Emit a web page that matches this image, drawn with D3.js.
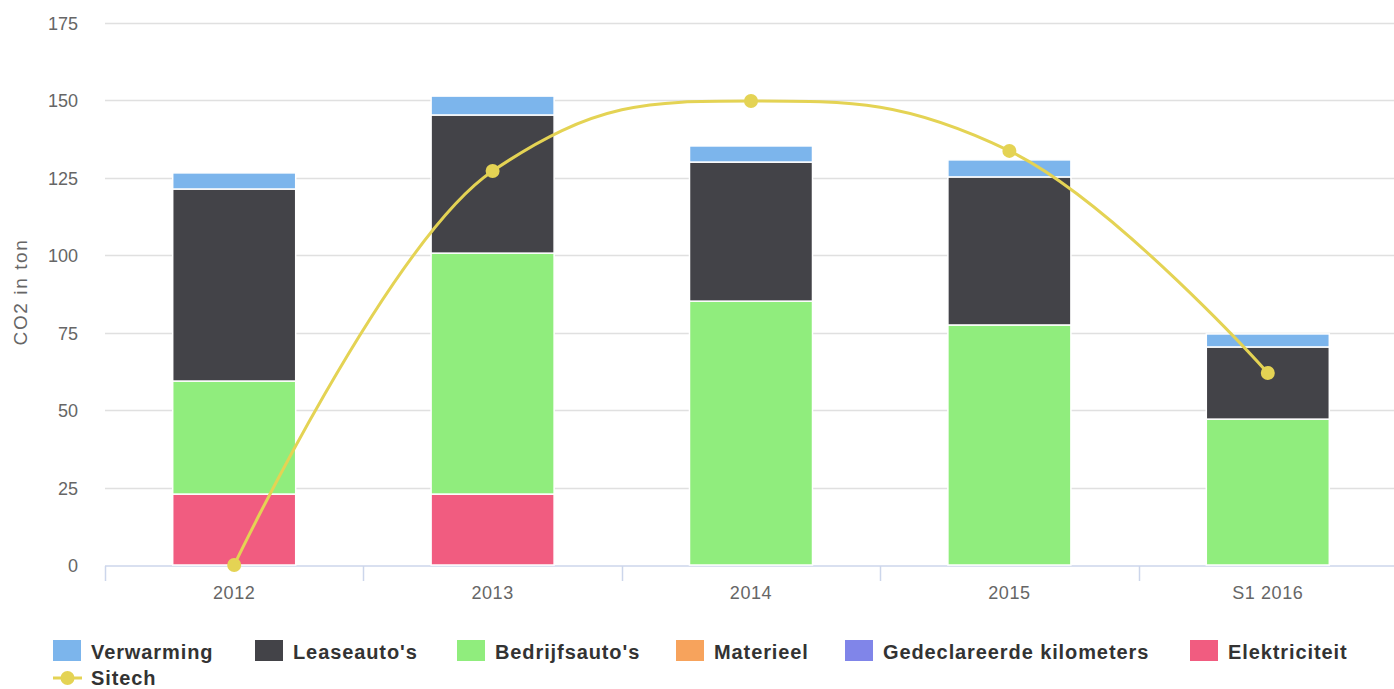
<!DOCTYPE html>
<html>
<head>
<meta charset="utf-8" />
<style>
  body { margin: 0; background: #fff; }
  svg { display: block; font-family: "Liberation Sans", Arial, Helvetica, sans-serif; }
  .grid line { stroke: #e0e0e0; stroke-width: 1.5px; }
  .ylab text, .xlab text { fill: #666; font-size: 18px; }
  .legend text { fill: #333; font-size: 20px; font-weight: bold; letter-spacing: 0.9px; }
</style>
</head>
<body>
<svg width="1394" height="689"></svg>
<script src="https://cdn.jsdelivr.net/npm/d3@7/dist/d3.min.js"></script>
<script>
  // data (CO2 in ton)
  var categories = ["2012", "2013", "2014", "2015", "S1 2016"];
  var verwarming = [5.2, 6.1, 5.2, 5.5, 4.2];
  var leaseautos = [62.0, 44.6, 44.9, 47.8, 23.3];
  var bedrijfsautos = [36.5, 77.8, 85.2, 77.5, 47.1];
  var materieel = [0, 0, 0, 0, 0];
  var gedeclareerd = [0, 0, 0, 0, 0];
  var elektriciteit = [22.9, 22.9, 0, 0, 0];
  var sitech = [0, 127.2, 149.8, 133.7, 62.0];
  var yTicks = [0, 25, 50, 75, 100, 125, 150, 175];

  var seriesNames = ["Verwarming", "Leaseauto's", "Bedrijfsauto's", "Materieel", "Gedeclareerde kilometers", "Elektriciteit"];
  var seriesValues = [verwarming, leaseautos, bedrijfsautos, materieel, gedeclareerd, elektriciteit];
  var colors = ["#7cb5ec", "#434348", "#90ed7d", "#f7a35c", "#8085e9", "#f15c80"];
  var lineColor = "#e4d354";

  var svg = d3.select("svg");
  var plotL = 105, plotR = 1397, plotT = 23, plotB = 565;

  var y = d3.scaleLinear().domain([0, 175]).range([plotB, plotT]);
  var xCat = d3.scaleBand().domain(categories).range([plotL, plotR]).padding(0);
  var x = d3.scaleBand().domain(categories).range([plotL, plotR])
    .paddingInner(0.524).paddingOuter(0.262);

  // grid lines
  svg.append("g").attr("class", "grid")
    .selectAll("line").data(yTicks.slice(1)).enter().append("line")
    .attr("x1", plotL).attr("x2", 1394)
    .attr("y1", function (d) { return Math.round(y(d)) + 0.5; })
    .attr("y2", function (d) { return Math.round(y(d)) + 0.5; });

  // y labels
  svg.append("g").attr("class", "ylab")
    .attr("transform", "translate(78,0)")
    .call(d3.axisLeft(y).tickValues(yTicks).tickSize(0).tickPadding(0))
    .call(function (g) { g.select(".domain").remove(); })
    .selectAll("text").attr("dy", "0.36em");

  svg.append("text")
    .attr("transform", "translate(27,292) rotate(-90)")
    .attr("text-anchor", "middle")
    .attr("fill", "#666").attr("font-size", "19px").attr("letter-spacing", "1.6px")
    .text("CO2 in ton");

  // x axis line + boundary ticks
  svg.append("line")
    .attr("x1", plotL).attr("x2", 1394).attr("y1", plotB + 1).attr("y2", plotB + 1)
    .attr("stroke", "#ccd6eb").attr("stroke-width", 1.5);
  svg.append("g").selectAll("line").data(categories).enter().append("line")
    .attr("x1", function (d) { return Math.round(xCat(d)) + 0.5; })
    .attr("x2", function (d) { return Math.round(xCat(d)) + 0.5; })
    .attr("y1", plotB + 1).attr("y2", plotB + 16)
    .attr("stroke", "#ccd6eb").attr("stroke-width", 1.5);

  svg.append("g").attr("class", "xlab")
    .attr("transform", "translate(0," + (plotB + 20) + ")")
    .call(d3.axisBottom(xCat).tickSize(0).tickPadding(0))
    .call(function (g) { g.select(".domain").remove(); })
    .selectAll("text").attr("dy", "0.75em").attr("letter-spacing", "0.6px");

  // stacked bars: first series on top, last at the bottom
  var rows = categories.map(function (c, i) {
    var r = { cat: c };
    seriesNames.forEach(function (n, k) { r[n] = seriesValues[k][i]; });
    return r;
  });
  var stack = d3.stack().keys(seriesNames.slice().reverse());
  var layers = stack(rows);

  svg.append("g").selectAll("g").data(layers).enter().append("g")
    .attr("fill", function (d) { return colors[seriesNames.indexOf(d.key)]; })
    .selectAll("rect")
    .data(function (d) { return d.filter(function (p) { return p[1] - p[0] > 0; }); })
    .enter().append("rect")
    .attr("x", function (d) { return x(d.data.cat); })
    .attr("width", x.bandwidth())
    .attr("y", function (d) { return y(d[1]); })
    .attr("height", function (d) { return y(d[0]) - y(d[1]); })
    .attr("stroke", "#fff").attr("stroke-width", 1.5);

  // Sitech spline (Highcharts-style control points)
  var pts = sitech.map(function (v, i) {
    return { x: xCat(categories[i]) + xCat.bandwidth() / 2, y: y(v) };
  });
  pts.forEach(function (p, i) {
    var a = pts[i - 1], b = pts[i + 1];
    if (!a || !b) return;
    var s = 1.5, den = s + 1;
    var lx = (s * p.x + a.x) / den, ly = (s * p.y + a.y) / den;
    var rx = (s * p.x + b.x) / den, ry = (s * p.y + b.y) / den;
    var corr = ((ry - ly) * (rx - p.x)) / (rx - lx) + p.y - ry;
    ly += corr; ry += corr;
    if (ly > a.y && ly > p.y) { ly = Math.max(a.y, p.y); ry = 2 * p.y - ly; }
    else if (ly < a.y && ly < p.y) { ly = Math.min(a.y, p.y); ry = 2 * p.y - ly; }
    if (ry > b.y && ry > p.y) { ry = Math.max(b.y, p.y); ly = 2 * p.y - ry; }
    else if (ry < b.y && ry < p.y) { ry = Math.min(b.y, p.y); ly = 2 * p.y - ry; }
    p.lx = lx; p.ly = ly; p.rx = rx; p.ry = ry;
  });
  var path = d3.path();
  pts.forEach(function (p, i) {
    if (i === 0) { path.moveTo(p.x, p.y); return; }
    var a = pts[i - 1];
    path.bezierCurveTo(
      a.rx != null ? a.rx : a.x, a.ry != null ? a.ry : a.y,
      p.lx != null ? p.lx : p.x, p.ly != null ? p.ly : p.y,
      p.x, p.y);
  });
  svg.append("path").attr("d", path.toString())
    .attr("fill", "none").attr("stroke", lineColor).attr("stroke-width", 3);
  svg.append("g").selectAll("circle").data(pts).enter().append("circle")
    .attr("cx", function (d) { return d.x; }).attr("cy", function (d) { return d.y; })
    .attr("r", 7).attr("fill", lineColor);

  // legend
  var legendX = [53, 255, 457, 676, 845, 1190];
  var leg = svg.append("g").attr("class", "legend");
  var items = leg.selectAll("g").data(seriesNames).enter().append("g")
    .attr("transform", function (d, i) { return "translate(" + legendX[i] + ",640)"; });
  items.append("rect").attr("width", 28).attr("height", 21)
    .attr("fill", function (d, i) { return colors[i]; });
  items.append("text").attr("x", 38).attr("y", 19).text(function (d) { return d; });

  var sl = leg.append("g").attr("transform", "translate(53,678)");
  sl.append("line").attr("x1", 0).attr("x2", 29).attr("y1", 0).attr("y2", 0)
    .attr("stroke", lineColor).attr("stroke-width", 3);
  sl.append("circle").attr("cx", 14.5).attr("cy", 0).attr("r", 7).attr("fill", lineColor);
  sl.append("text").attr("x", 38).attr("y", 7).text("Sitech");
</script>
</body>
</html>
